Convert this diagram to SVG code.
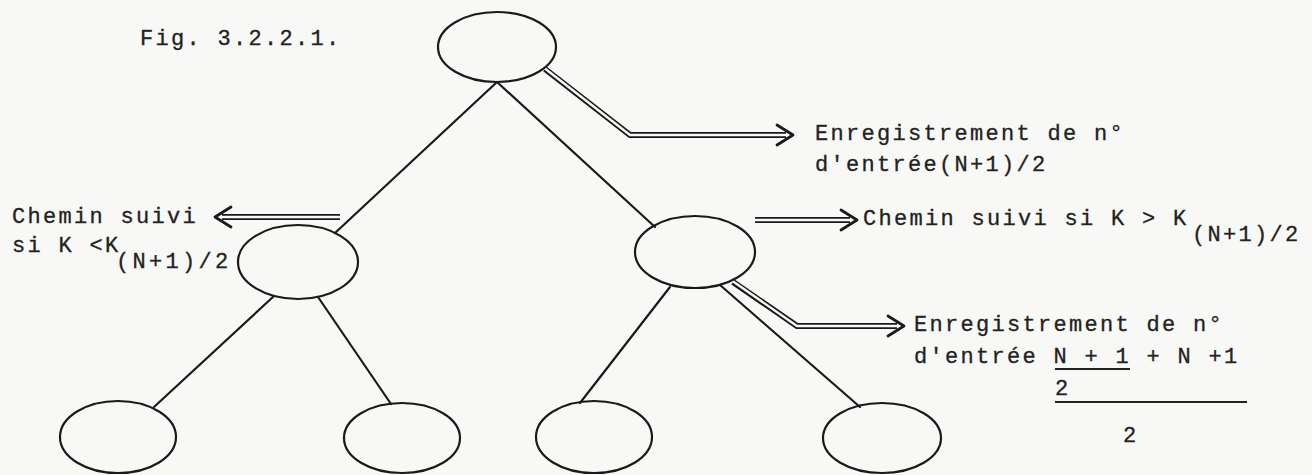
<svg xmlns="http://www.w3.org/2000/svg" width="1312" height="475" viewBox="0 0 1312 475">
  <style>
    .node { fill: none; stroke: #1a1a1a; stroke-width: 2.2; }
    .edge { fill: none; stroke: #1a1a1a; stroke-width: 2.2; stroke-linecap: round; }
    .dbl-outer { fill: none; stroke: #1a1a1a; stroke-width: 6; stroke-linejoin: miter; }
    .dbl-inner { fill: none; stroke: #f8f8f6; stroke-width: 2.4; stroke-linejoin: miter; }
    .head { fill: none; stroke: #1a1a1a; stroke-width: 2.8; stroke-linecap: round; stroke-linejoin: round; }
    .txt { font-family: "Liberation Mono", "DejaVu Sans Mono", monospace; font-size: 22px; letter-spacing: 2.3px; fill: #222; stroke: #222; stroke-width: 0.3px; }
    .sub { letter-spacing: 3.3px; }
    .rule { stroke: #222; stroke-width: 1.8; }
  </style>
  <rect x="0" y="0" width="1312" height="475" fill="#f8f8f6"/>

  <text class="txt" x="140" y="45">Fig. 3.2.2.1.</text>

  <!-- tree edges -->
  <g id="connectors">
    <line class="edge" x1="497" y1="82" x2="335" y2="233"/>
    <line class="edge" x1="497" y1="82" x2="655" y2="227"/>
    <line class="edge" x1="274" y1="296" x2="154" y2="407"/>
    <line class="edge" x1="318" y1="297" x2="391" y2="404"/>
    <line class="edge" x1="670" y1="287" x2="580" y2="403"/>
    <line class="edge" x1="720" y1="285" x2="860" y2="407"/>

    <!-- double-line pointers -->
    <path class="dbl-outer" d="M545 69 L630 135 L786 135"/>
    <path class="dbl-inner" d="M543 67 L630 135 L786 135"/>
    <path class="head" d="M777 125 L793 135 L777 145"/>

    <path class="dbl-outer" d="M340 217 L222 217"/>
    <path class="dbl-inner" d="M342 217 L222 217"/>
    <path class="head" d="M231 207 L215 217 L231 227"/>

    <path class="dbl-outer" d="M755 220 L850 220"/>
    <path class="dbl-inner" d="M753 220 L850 220"/>
    <path class="head" d="M841 210 L857 220 L841 230"/>

    <path class="dbl-outer" d="M733 282 L797 326 L897 326"/>
    <path class="dbl-inner" d="M731 280 L797 326 L897 326"/>
    <path class="head" d="M888 316 L904 326 L888 336"/>
  </g>

  <g id="root"><ellipse class="node" cx="497" cy="47" rx="59" ry="35"/></g>
  <g id="left"><ellipse class="node" cx="298" cy="262" rx="60" ry="37"/></g>
  <g id="right"><ellipse class="node" cx="695" cy="252" rx="60" ry="36"/></g>
  <g id="leaf1"><ellipse class="node" cx="118" cy="437" rx="58" ry="36"/></g>
  <g id="leaf2"><ellipse class="node" cx="402" cy="438" rx="58" ry="35"/></g>
  <g id="leaf3"><ellipse class="node" cx="594" cy="437" rx="58" ry="36"/></g>
  <g id="leaf4"><ellipse class="node" cx="882" cy="438" rx="59" ry="35"/></g>

  <g id="label-root">
    <text class="txt" x="815" y="140">Enregistrement de n°</text>
    <text class="txt" x="815" y="171">d'entrée(N+1)/2</text>
  </g>

  <g id="label-left">
    <text class="txt" x="12" y="223">Chemin suivi</text>
    <text class="txt" x="12" y="252">si K &lt;K</text>
    <text class="txt sub" x="116" y="268">(N+1)/2</text>
  </g>

  <g id="label-right">
    <text class="txt" x="863" y="225">Chemin suivi si K &gt; K</text>
    <text class="txt" x="1192" y="241">(N+1)/2</text>
  </g>

  <g id="label-right-child">
    <text class="txt" x="914" y="331">Enregistrement de n°</text>
    <text class="txt" x="914" y="363">d'entrée N + 1 + N +1</text>
    <line class="rule" x1="1055" y1="369" x2="1130" y2="369"/>
    <text class="txt" x="1055" y="395">2</text>
    <line class="rule" x1="1055" y1="402" x2="1247" y2="402"/>
    <text class="txt" x="1123" y="442">2</text>
  </g>
</svg>
